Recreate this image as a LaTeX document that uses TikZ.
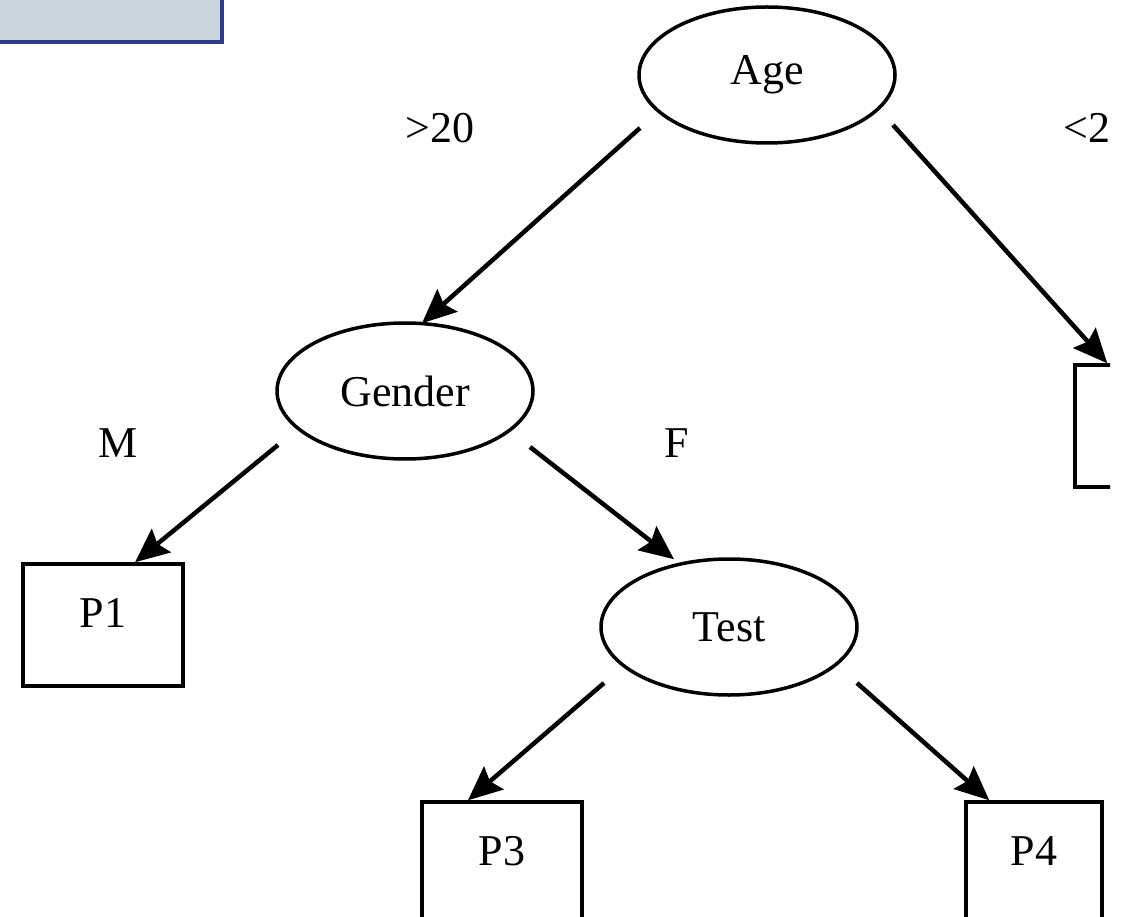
\documentclass[tikz,border=0pt]{standalone}
\usepackage{fontspec}
\setmainfont{Liberation Serif}
\usetikzlibrary{arrows.meta,shapes.geometric,calc}
\definecolor{boxfill}{RGB}{201,213,219}
\definecolor{boxline}{RGB}{44,58,142}
\begin{document}
\begin{tikzpicture}[x=1pt,y=-1pt,
  every node/.style={font=\fontsize{44}{50}\selectfont},
  oval/.style={ellipse,draw,line width=3.5pt,minimum width=256pt,minimum height=136pt,inner sep=0pt},
  leaf/.style={rectangle,draw,line width=3.5pt,minimum width=160pt,minimum height=122pt,inner sep=0pt,text depth=24pt},
  arr/.style={line width=4.5pt,-{Stealth[length=34pt,width=30pt,inset=5pt]}},
  lbl/.style={inner sep=0pt}]
\useasboundingbox (0,0) rectangle (1130,917);
\clip (-5,-5) rectangle (1110,917);
% header box
\draw[fill=boxfill,draw=boxline,line width=4pt] (-10,-10) rectangle (222,42);
% nodes
\node[oval] (age) at (767,75) {Age};
\node[oval] (gender) at (405,391) {Gender};
\node[oval] (test) at (729,627) {Test};
\node[leaf] (p1) at (103,625) {P1};
\node[leaf] (p3) at (502,863) {P3};
\node[leaf,minimum width=136pt] (p4) at (1034,863) {P4};
\node[leaf,minimum width=136pt] (p2) at (1143,426) {};
% labels
\node[lbl] (l1) at (440,128) {>20};
\node[lbl,anchor=west] (l2) at (1063,128) {<20};
\node[lbl] (l3) at (118,443) {M};
\node[lbl] (l4) at (677,443) {F};
% connector end points
\coordinate (a1) at (640,128);
\coordinate (a2) at (893,125);
\coordinate (g1) at (278,445);
\coordinate (g2) at (530,447);
\coordinate (t1) at (604,683);
\coordinate (t2) at (857,683);
\coordinate (tg) at ($(gender.north)+(17,2)$);
\coordinate (tp2) at ($(p2.north west)+(34,0)$);
\coordinate (tp1) at ($(p1.north)+(32,0)$);
\coordinate (tt) at ($(test.north)+(-55,2)$);
\coordinate (tp3) at ($(p3.north)+(-34,0)$);
\coordinate (tp4) at ($(p4.north west)+(25,0)$);
% connectors
\draw[arr] (a1) -- (tg);
\draw[arr] (a2) -- (tp2);
\draw[arr] (g1) -- (tp1);
\draw[arr] (g2) -- (tt);
\draw[arr] (t1) -- (tp3);
\draw[arr] (t2) -- (tp4);
\end{tikzpicture}
\end{document}
